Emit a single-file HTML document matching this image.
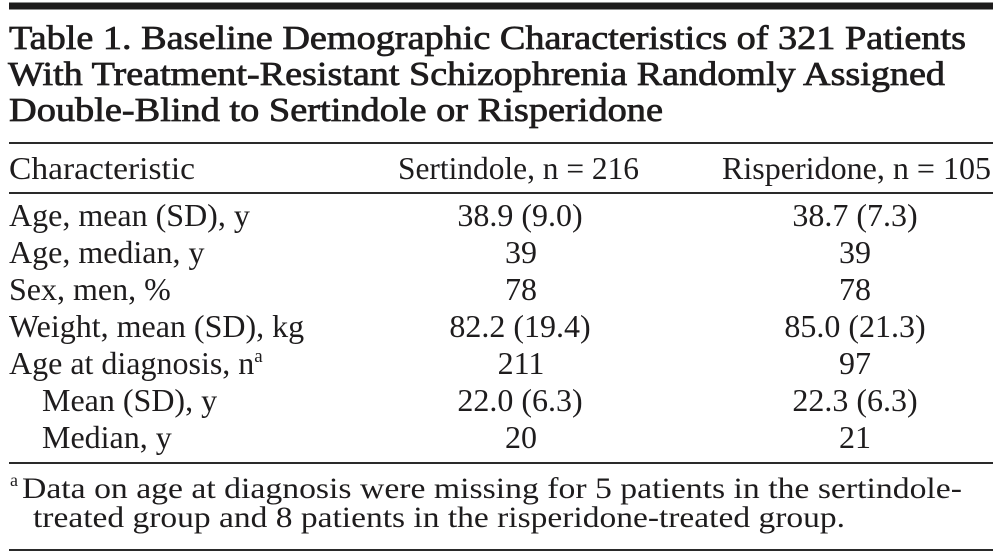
<!DOCTYPE html>
<html>
<head>
<meta charset="utf-8">
<style>
html,body{margin:0;padding:0;background:#fff;}
svg{display:block;}
text{font-family:"Liberation Serif",serif;fill:#1e1c1d;}
.t{font-weight:normal;font-size:34px;stroke:#1e1c1d;stroke-width:0.75px;}
.b{font-size:32px;}
.f{font-size:30px;}
</style>
</head>
<body>
<svg width="1006" height="556" viewBox="0 0 1006 556" xmlns="http://www.w3.org/2000/svg">
<rect x="0" y="0" width="1006" height="556" fill="#fff"/>
<!-- top thick bar -->
<rect x="9" y="2.5" width="984" height="7" fill="#1e1c1d"/>
<!-- title -->
<text class="t" x="9" y="49" textLength="957" lengthAdjust="spacingAndGlyphs">Table 1. Baseline Demographic Characteristics of 321 Patients</text>
<text class="t" x="8" y="85" textLength="937" lengthAdjust="spacingAndGlyphs">With Treatment-Resistant Schizophrenia Randomly Assigned</text>
<text class="t" x="9" y="121" textLength="654" lengthAdjust="spacingAndGlyphs">Double-Blind to Sertindole or Risperidone</text>
<!-- line under title -->
<rect x="9" y="142" width="984" height="2" fill="#2a2a2a"/>
<!-- header -->
<text class="b" x="9" y="179" textLength="186" lengthAdjust="spacingAndGlyphs">Characteristic</text>
<text class="b" x="398" y="179" textLength="241" lengthAdjust="spacingAndGlyphs">Sertindole, n = 216</text>
<text class="b" x="722" y="179" textLength="269" lengthAdjust="spacingAndGlyphs">Risperidone, n = 105</text>
<rect x="9" y="192" width="984" height="2" fill="#2a2a2a"/>
<!-- rows -->
<text class="b" x="9" y="226">Age, mean (SD), y</text>
<text class="b" x="520" y="226" text-anchor="middle">38.9 (9.0)</text>
<text class="b" x="855" y="226" text-anchor="middle">38.7 (7.3)</text>

<text class="b" x="9" y="263">Age, median, y</text>
<text class="b" x="521" y="263" text-anchor="middle">39</text>
<text class="b" x="855" y="263" text-anchor="middle">39</text>

<text class="b" x="9" y="300">Sex, men, %</text>
<text class="b" x="521" y="300" text-anchor="middle">78</text>
<text class="b" x="855" y="300" text-anchor="middle">78</text>

<text class="b" x="9" y="337">Weight, mean (SD), kg</text>
<text class="b" x="520" y="337" text-anchor="middle">82.2 (19.4)</text>
<text class="b" x="855" y="337" text-anchor="middle">85.0 (21.3)</text>

<text class="b" x="9" y="374">Age at diagnosis, n<tspan font-size="19" dy="-12">a</tspan></text>
<text class="b" x="521" y="374" text-anchor="middle">211</text>
<text class="b" x="855" y="374" text-anchor="middle">97</text>

<text class="b" x="42" y="411">Mean (SD), y</text>
<text class="b" x="520" y="411" text-anchor="middle">22.0 (6.3)</text>
<text class="b" x="855" y="411" text-anchor="middle">22.3 (6.3)</text>

<text class="b" x="42" y="448">Median, y</text>
<text class="b" x="521" y="448" text-anchor="middle">20</text>
<text class="b" x="855" y="448" text-anchor="middle">21</text>

<rect x="9" y="462" width="984" height="2" fill="#2a2a2a"/>
<!-- footnote -->
<text x="10" y="486" font-size="18">a</text>
<text class="f" x="22" y="498" textLength="940" lengthAdjust="spacingAndGlyphs">Data on age at diagnosis were missing for 5 patients in the sertindole-</text>
<text class="f" x="33" y="527" textLength="812" lengthAdjust="spacingAndGlyphs">treated group and 8 patients in the risperidone-treated group.</text>
<rect x="9" y="549" width="984" height="2" fill="#2a2a2a"/>
</svg>
</body>
</html>
